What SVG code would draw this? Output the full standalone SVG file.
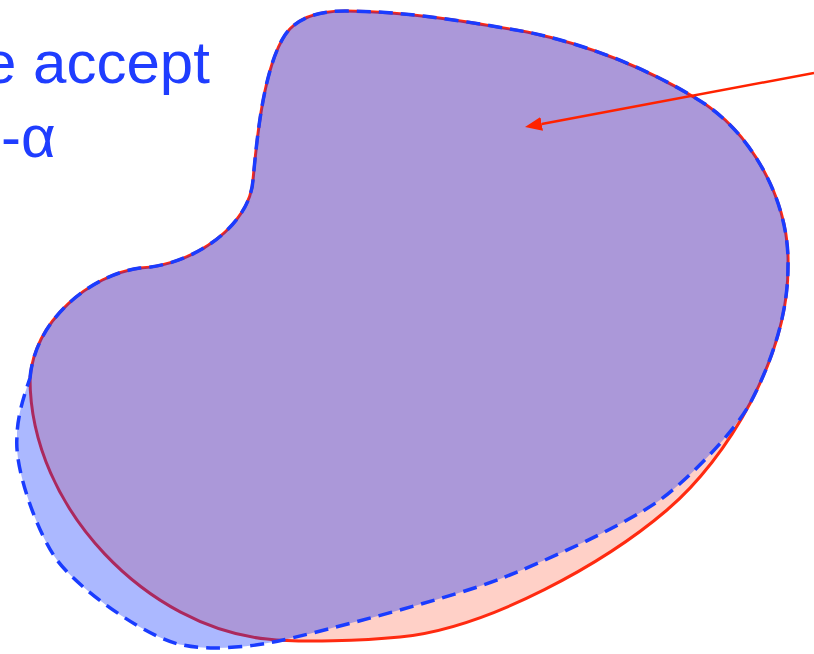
<svg xmlns="http://www.w3.org/2000/svg" width="814" height="654" viewBox="0 0 814 654">
  <defs>
    <style>
      .red-shape { fill: #ff2a00; fill-opacity: 0.22; stroke: #ff2a10; stroke-width: 3; }
      .blue-shape { fill: #0028ff; fill-opacity: 0.33; stroke: #1a3cff; stroke-width: 3.5; stroke-dasharray: 14 8; }
      .label { font-family: "Liberation Sans", Arial, sans-serif; font-size: 60px; fill: #1f3dff; }
      .arrow { stroke: #ff2200; stroke-width: 2.5; fill: none; }
    </style>
    <marker id="head" viewBox="0 0 17 14" markerWidth="17" markerHeight="14" refX="0" refY="7" orient="auto" markerUnits="userSpaceOnUse">
      <path d="M0,0 L17,7 L0,14 Z" fill="#ff2200"/>
    </marker>
  </defs>
  <rect width="814" height="654" fill="#ffffff"/>

  <g id="red-region">
    <path class="red-shape" d="M30,378 C35,320 90,275 140,268 C195,265 250,225 253,180 C256,150 262,70 285,35 C297,17 320,11 345,11 C405,11 470,22 527,32 C590,45 650,70 697,99 C750,130 790,200 788,267 C788,312 773,359.75 750.4,402.75 C727.75,445.75 697.5,484 667,510 C606,562 490,628 400,637 C365,640.5 300,643 267,639 C150,628 30,510 30,378 Z"/>
  </g>

  <g id="blue-region">
    <path class="blue-shape" d="M30,378 C35,320 90,275 140,268 C195,265 250,225 253,180 C256,150 262,70 285,35 C297,17 320,11 345,11 C405,11 470,22 527,32 C590,45 650,70 697,99 C750,130 790,200 788,267 C788,312 773,359.75 750.4,402.75 C735,431 690,478 660,500 C620,528 540,563 500,579 C460,595 328,630 283,640 C253,647 210,651 183,645 C150,640 79,590 57,560 C39,536 14,470 17,437 C17,415 26,390 30,378 Z"/>
  </g>

  <g id="connectors">
    <path class="arrow" d="M814,73 L541.7,123.9" marker-end="url(#head)"/>
  </g>

  <g id="label">
    <text class="label" x="-17" y="83">e accept</text>
    <text class="label" x="1" y="157">-α</text>
  </g>
</svg>
